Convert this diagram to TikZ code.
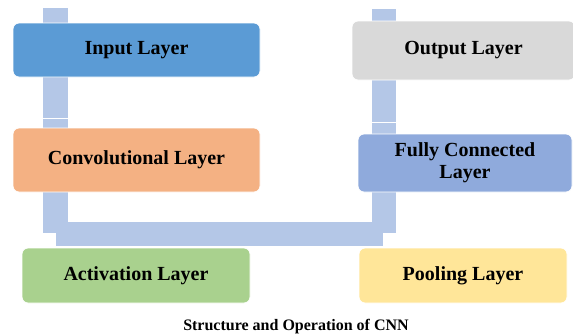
\documentclass[tikz,border=0pt]{standalone}
\usepackage{fontspec}
\setmainfont{Liberation Serif}

\definecolor{barblue}{HTML}{B4C7E7}
\definecolor{inblue}{HTML}{5B9BD5}
\definecolor{outgray}{HTML}{D9D9D9}
\definecolor{convorange}{HTML}{F4B183}
\definecolor{fcblue}{HTML}{8FAADC}
\definecolor{actgreen}{HTML}{A9D18E}
\definecolor{poolyellow}{HTML}{FFE699}

\tikzset{
  layerbox/.style={draw=white, line width=0.8pt, rounded corners=6pt,
    font=\fontsize{20}{22}\selectfont\bfseries, align=center, inner sep=0pt},
  bar/.style={fill=barblue, draw=none}
}

\begin{document}
\begin{tikzpicture}[x=1pt,y=-1pt]
\useasboundingbox (0,0) rectangle (573,335);
% bending bars behind the boxes
\coordinate (ltop) at (43,8);
\coordinate (rtop) at (372,9);
\fill[bar] (ltop) rectangle (68,233);
\fill[bar] (rtop) rectangle (396,233);
\fill[bar] (43,222) rectangle (396,233);
\fill[bar] (56,222) rectangle (383,246);
\draw[white, line width=0.5pt] (43,118) -- (68,118);
\draw[white, line width=0.5pt] (372,122) -- (396,122);
% layers
\node[layerbox, fill=inblue, minimum width=247pt, minimum height=54pt] (input) at (136.5,50) {Input Layer};
\node[layerbox, fill=convorange, minimum width=247pt, minimum height=64pt] (conv) at (136.5,160) {Convolutional Layer};
\node[layerbox, fill=actgreen, minimum width=228pt, minimum height=55pt] (act) at (136,275.5) {Activation Layer};
\node[layerbox, fill=poolyellow, minimum width=208pt, minimum height=55pt] (pool) at (463,275.5) {Pooling Layer};
\node[layerbox, fill=fcblue, minimum width=214pt, minimum height=58pt] (fc) at (465,163) {Fully Connected\\Layer};
\node[layerbox, fill=outgray, minimum width=223pt, minimum height=59pt] (output) at (463.5,50.5) {Output Layer};
% caption
\node[font=\fontsize{16}{18}\selectfont\bfseries] (caption) at (296,327) {Structure and Operation of CNN};
\end{tikzpicture}
\end{document}
